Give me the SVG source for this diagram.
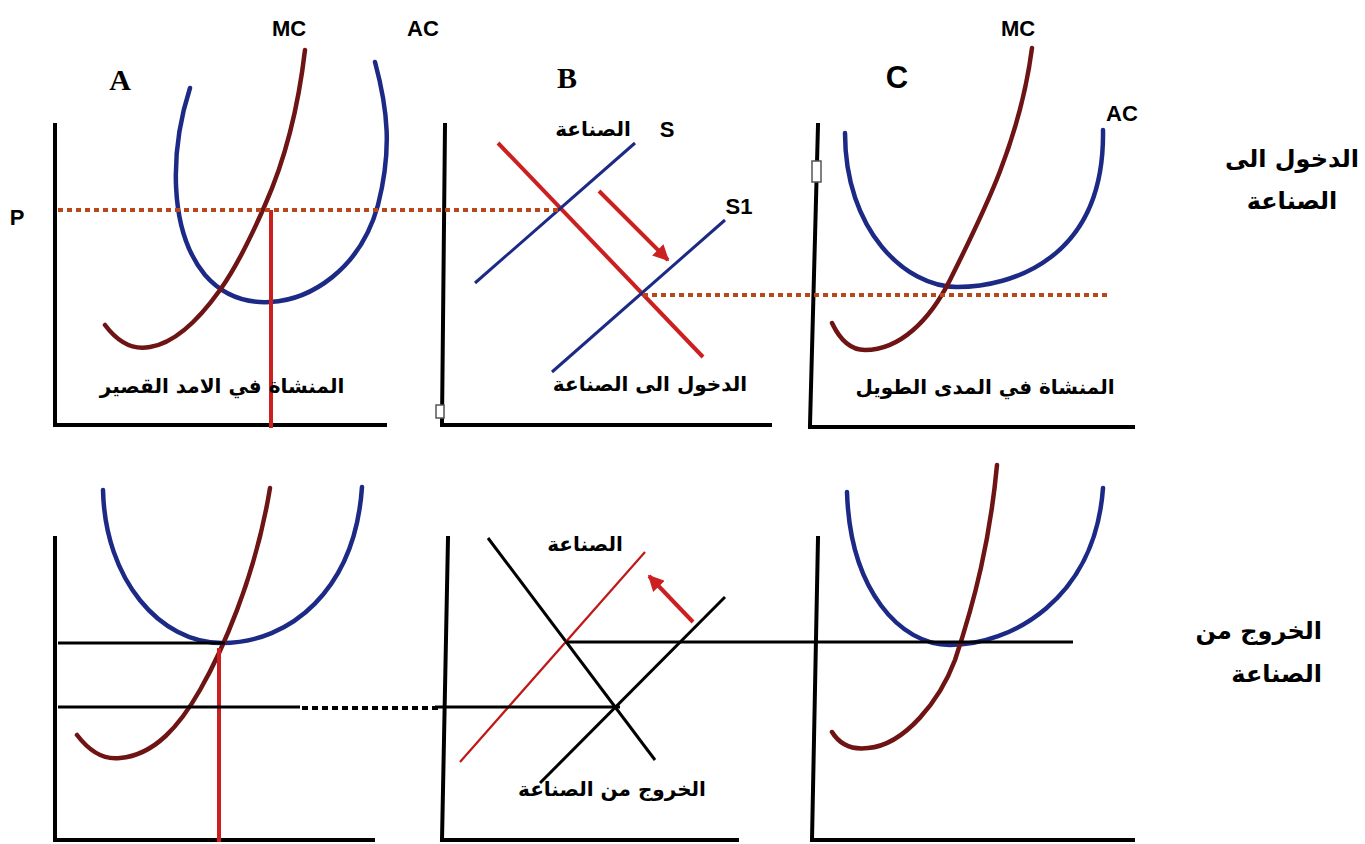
<svg xmlns="http://www.w3.org/2000/svg" width="1365" height="844" viewBox="0 0 1365 844">
<style>
.ax{stroke:#000;stroke-width:4;fill:none;stroke-linecap:square}
.mc{stroke:#6e1414;stroke-width:4.5;fill:none;stroke-linecap:round}
.ac{stroke:#1c2a86;stroke-width:4.5;fill:none;stroke-linecap:round}
.dot{stroke:#b8471c;stroke-width:4;stroke-dasharray:5 4;fill:none}
.red{stroke:#cc2020;stroke-width:4;fill:none}
.blu{stroke:#1c2a86;stroke-width:3;fill:none}
.blk{stroke:#000;stroke-width:3;fill:none}
.lbl{font-family:"Liberation Sans",Arial,sans-serif;font-weight:bold;font-size:22px;fill:#000}
.big{font-family:"Liberation Serif","Times New Roman",serif;font-weight:bold;font-size:30px;fill:#000}
.bigs{font-family:"Liberation Sans",Arial,sans-serif;font-weight:bold;font-size:31px;fill:#000}
.ar{font-family:"DejaVu Sans","Noto Sans",sans-serif;font-weight:bold;font-size:20px;fill:#000}
.arl{font-family:"DejaVu Sans","Noto Sans",sans-serif;font-weight:bold;font-size:24px;fill:#000}
.box{fill:#fff;stroke:#555;stroke-width:1.5}
</style>
<defs>
<marker id="ah" viewBox="0 0 10 10" refX="9" refY="5" markerWidth="4" markerHeight="4" orient="auto" markerUnits="strokeWidth">
<path d="M0,0 L10,5 L0,10 z" fill="#cc2020"/>
</marker>
</defs>

<g id="panelA-top">
<line class="ax" x1="55" y1="125" x2="55" y2="425"/>
<line class="ax" x1="55" y1="425" x2="385" y2="425"/>
<path class="ac" d="M190,88 C170,150 168,230 205,275 C225,298 250,303 270,302 C310,300 360,270 378,205 C392,150 388,110 375,62"/>
<path class="mc" d="M105,325 C120,345 135,350 150,347 C175,343 200,318 220,290 C240,262 255,228 265,205 C285,160 298,110 305,50"/>
<line class="red" x1="271" y1="210" x2="271" y2="428"/>
<text class="big" x="120" y="90" text-anchor="middle">A</text>
<text class="lbl" x="289" y="36" text-anchor="middle">MC</text>
<text class="lbl" x="423" y="36" text-anchor="middle">AC</text>
<text class="lbl" x="17" y="225" text-anchor="middle">P</text>
<text class="ar" x="222" y="393" text-anchor="middle">المنشاة في الامد القصير</text>
</g>

<g id="panelB-top">
<line class="ax" x1="445" y1="125" x2="442" y2="423"/>
<line class="ax" x1="442" y1="425" x2="770" y2="425"/>
<rect class="box" x="436" y="405" width="8" height="13"/>
<line class="red" x1="498" y1="143" x2="703" y2="357"/>
<line class="blu" x1="475" y1="283" x2="635" y2="143"/>
<line class="blu" x1="552" y1="372" x2="725" y2="220"/>
<text class="big" x="567" y="88" text-anchor="middle">B</text>
<text class="ar" x="593" y="136" text-anchor="middle">الصناعة</text>
<text class="lbl" x="667" y="137" text-anchor="middle">S</text>
<text class="lbl" x="739" y="214" text-anchor="middle">S1</text>
<text class="ar" x="650" y="391" text-anchor="middle">الدخول الى الصناعة</text>
</g>

<g id="panelC-top">
<line class="ax" x1="818" y1="125" x2="810" y2="425"/>
<line class="ax" x1="810" y1="427" x2="1133" y2="427"/>
<rect class="box" x="812" y="161" width="9" height="21"/>
<path class="ac" d="M845,133 C845,230 905,287 957,287 C1010,287 1105,260 1103,130"/>
<path class="mc" d="M832,323 C840,340 850,350 865,350 C900,350 930,320 950,280 C985,210 1020,140 1032,48"/>
<text class="bigs" x="897" y="88" text-anchor="middle">C</text>
<text class="lbl" x="1018" y="36" text-anchor="middle">MC</text>
<text class="lbl" x="1122" y="121" text-anchor="middle">AC</text>
<text class="ar" x="985" y="394" text-anchor="middle">المنشاة في المدى الطويل</text>
</g>

<g id="label-entry">
<text class="arl" x="1292" y="167" text-anchor="middle">الدخول الى</text>
<text class="arl" x="1292" y="209" text-anchor="middle">الصناعة</text>
</g>

<g id="panelA-bottom">
<line class="ax" x1="55" y1="538" x2="55" y2="840"/>
<line class="ax" x1="55" y1="840" x2="373" y2="840"/>
<path class="ac" d="M103,490 C105,580 160,643 222,643 C290,643 355,590 362,487"/>
<path class="mc" d="M77,735 C90,752 105,760 120,758 C155,755 180,725 200,690 C220,655 255,580 270,488"/>
<line class="red" x1="219" y1="648" x2="219" y2="842"/>
</g>

<g id="panelB-bottom">
<line class="ax" x1="448" y1="538" x2="442" y2="840"/>
<line class="ax" x1="442" y1="840" x2="737" y2="840"/>
<line class="blk" x1="488" y1="538" x2="655" y2="760"/>
<line stroke="#c01818" stroke-width="2.2" x1="460" y1="762" x2="645" y2="552"/>
<line class="blk" x1="725" y1="597" x2="540" y2="783"/>
<text class="ar" x="585" y="551" text-anchor="middle">الصناعة</text>
<text class="ar" x="612" y="796" text-anchor="middle">الخروج من الصناعة</text>
</g>

<g id="panelC-bottom">
<line class="ax" x1="818" y1="538" x2="812" y2="840"/>
<line class="ax" x1="812" y1="840" x2="1133" y2="840"/>
<path class="ac" d="M847,492 C850,590 900,645 950,645 C1010,645 1095,600 1103,488"/>
<path class="mc" d="M832,732 C840,745 852,750 868,748 C905,745 940,700 955,660 C975,600 990,540 997,465"/>
</g>

<g id="label-exit">
<text class="arl" x="1322" y="639" text-anchor="end" font-size="25">الخروج من</text>
<text class="arl" x="1322" y="682" text-anchor="end" font-size="25">الصناعة</text>
</g>

<g id="connectors">
<line class="dot" x1="58" y1="210" x2="560" y2="210"/>
<line class="dot" x1="643" y1="295" x2="1110" y2="295"/>
<line class="red" stroke-width="5" x1="599" y1="191" x2="668" y2="260" marker-end="url(#ah)"/>
<line class="blk" x1="58" y1="643" x2="225" y2="643"/>
<line class="blk" x1="565" y1="642" x2="1073" y2="642"/>
<line class="blk" x1="58" y1="707" x2="300" y2="707"/>
<line stroke="#000" stroke-width="4" stroke-dasharray="6 4" x1="302" y1="708" x2="440" y2="708"/>
<line class="blk" x1="435" y1="707" x2="620" y2="707"/>
<line class="red" stroke-width="5" x1="693" y1="622" x2="649" y2="576" marker-end="url(#ah)"/>
</g>
</svg>
